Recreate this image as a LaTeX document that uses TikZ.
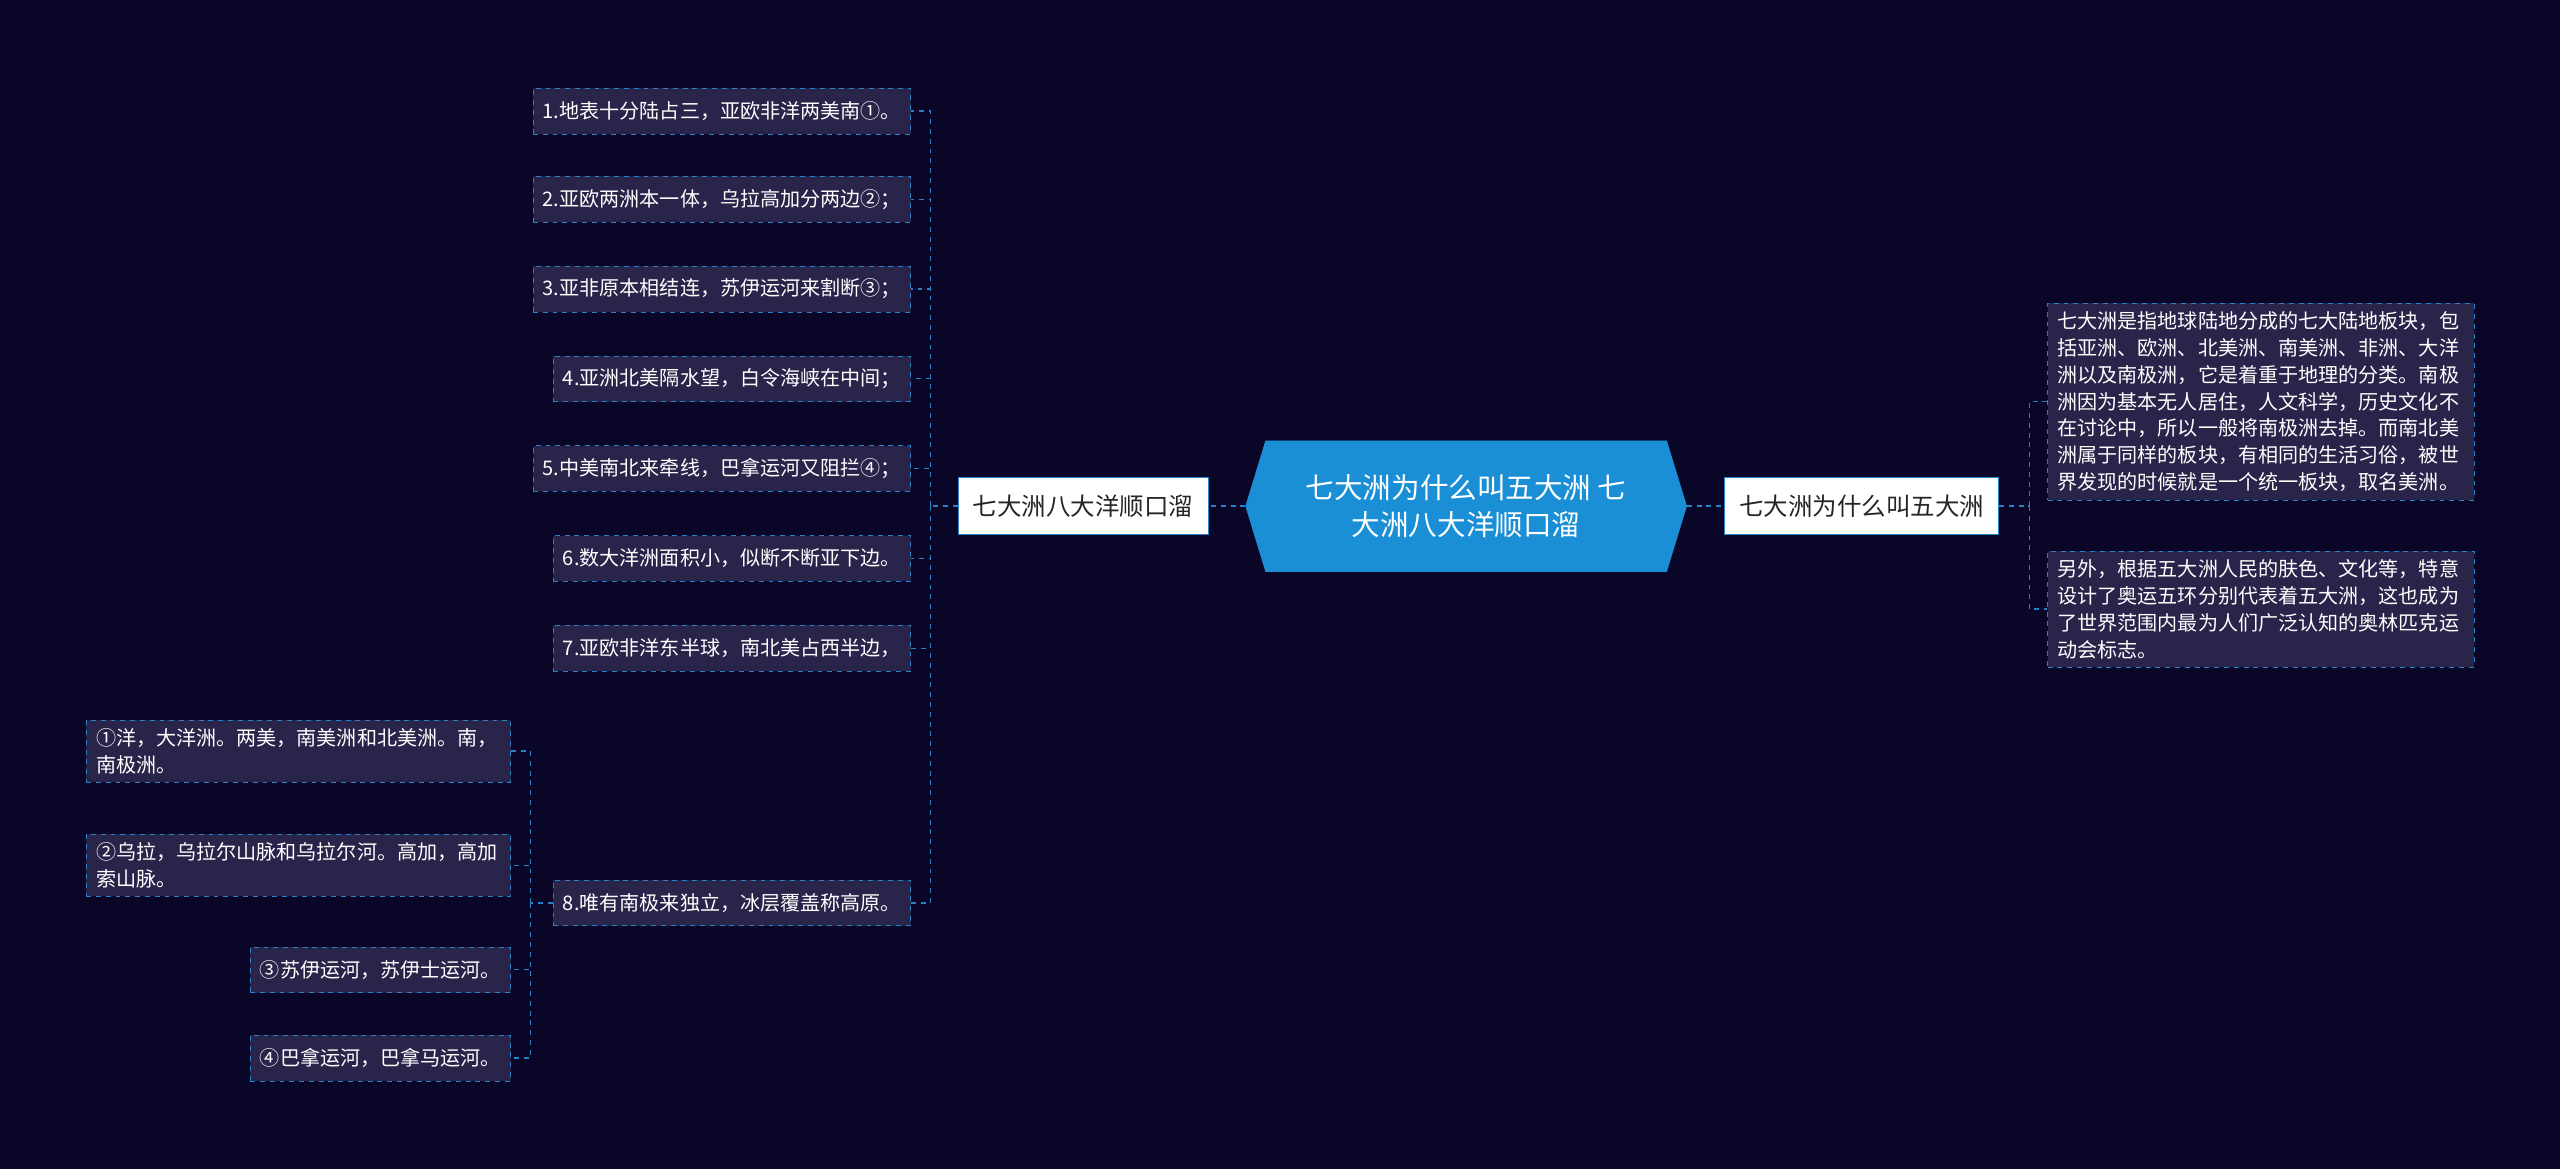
\documentclass[tikz,border=0pt]{standalone}
\usepackage{fontspec}
\setmainfont{Noto Sans CJK SC}
\usetikzlibrary{positioning,shapes.symbols}
\definecolor{bgnavy}{RGB}{10,6,40}
\definecolor{mainblue}{RGB}{26,143,214}
\definecolor{leaffill}{RGB}{40,36,74}
\definecolor{linkblue}{RGB}{40,130,200}
\tikzset{
  every picture/.style = {
    x = 1pt, y = -1pt,
  }
  ,
  root/.style = {
    signal, signal to = west and east, signal pointer angle = 146,
    fill = mainblue, draw = mainblue, text = white,
    font = \fontsize{17.5}{23}\selectfont, align = center,
    minimum width = 270pt, minimum height = 80pt, inner sep = 2pt
  }
  , % second level
  branch/.style = {
    rectangle, fill = white, draw = linkblue, text = black!85,
    font = \fontsize{15}{18}\selectfont,
    minimum height = 35pt, inner xsep = 9pt
  }
  , % leaves
  leaf/.style = {
    rectangle, fill = leaffill, draw = linkblue, dashed, text = white,
    font = \fontsize{12.3}{16.5}\selectfont, align = left,
    minimum height = 28pt, inner xsep = 6pt, inner ysep = 5pt
  }
  ,
  link/.style = {
    draw = linkblue, dashed, line width = 0.8pt
  }
}
\begin{document}
\begin{tikzpicture}
  \fill[bgnavy] (0,0) rectangle (1568,716);
  \useasboundingbox (0,0) rectangle (1568,716);

  \node [root] (root) at (898,310) {七大洲为什么叫五大洲 七\\大洲八大洋顺口溜};
  \node [branch, anchor = east] (left) at (740,310) {七大洲八大洋顺口溜};
  \node [branch, anchor = west] (right) at (1056,310) {七大洲为什么叫五大洲};

  % rhyme lines
  \foreach \i/\y/\t in {
      1/68/{1.地表十分陆占三，亚欧非洋两美南①。},
      2/122/{2.亚欧两洲本一体，乌拉高加分两边②；},
      3/177/{3.亚非原本相结连，苏伊运河来割断③；},
      4/232/{4.亚洲北美隔水望，白令海峡在中间；},
      5/287/{5.中美南北来牵线，巴拿运河又阻拦④；},
      6/342/{6.数大洋洲面积小，似断不断亚下边。},
      7/397/{7.亚欧非洋东半球，南北美占西半边，},
      8/553/{8.唯有南极来独立，冰层覆盖称高原。}}
    \node [leaf, anchor = east] (l\i) at (558,\y) {\t};

  % notes
  \node [leaf, anchor = east, text width = 248pt] (n1) at (313,460) {①洋，大洋洲。两美，南美洲和北美洲。南，\\南极洲。};
  \node [leaf, anchor = east, text width = 248pt] (n2) at (313,530) {②乌拉，乌拉尔山脉和乌拉尔河。高加，高加\\索山脉。};
  \node [leaf, anchor = east] (n3) at (313,594) {③苏伊运河，苏伊士运河。};
  \node [leaf, anchor = east] (n4) at (313,648) {④巴拿运河，巴拿马运河。};

  % explanations
  \node [leaf, anchor = west, text width = 249pt] (r1) at (1254,246) {七大洲是指地球陆地分成的七大陆地板块，包\\括亚洲、欧洲、北美洲、南美洲、非洲、大洋\\洲以及南极洲，它是着重于地理的分类。南极\\洲因为基本无人居住，人文科学，历史文化不\\在讨论中，所以一般将南极洲去掉。而南北美\\洲属于同样的板块，有相同的生活习俗，被世\\界发现的时候就是一个统一板块，取名美洲。};
  \node [leaf, anchor = west, text width = 249pt] (r2) at (1254,373) {另外，根据五大洲人民的肤色、文化等，特意\\设计了奥运五环分别代表着五大洲，这也成为\\了世界范围内最为人们广泛认知的奥林匹克运\\动会标志。};

  \coordinate (lj) at (570,310);
  \coordinate (nj) at (325,553);
  \coordinate (rj) at (1243,310);

  \draw [link] (root.west) -- (left.east);
  \draw [link] (root.east) -- (right.west);
  \draw [link] (left.west) -- (lj);
  \foreach \i in {1,...,8}
    \draw [link] (lj) |- (l\i.east);
  \draw [link] (l8.west) -- (nj);
  \foreach \i in {1,...,4}
    \draw [link] (nj) |- (n\i.east);
  \draw [link] (right.east) -- (rj);
  \foreach \i in {1,2}
    \draw [link] (rj) |- (r\i.west);
\end{tikzpicture}
\end{document}
